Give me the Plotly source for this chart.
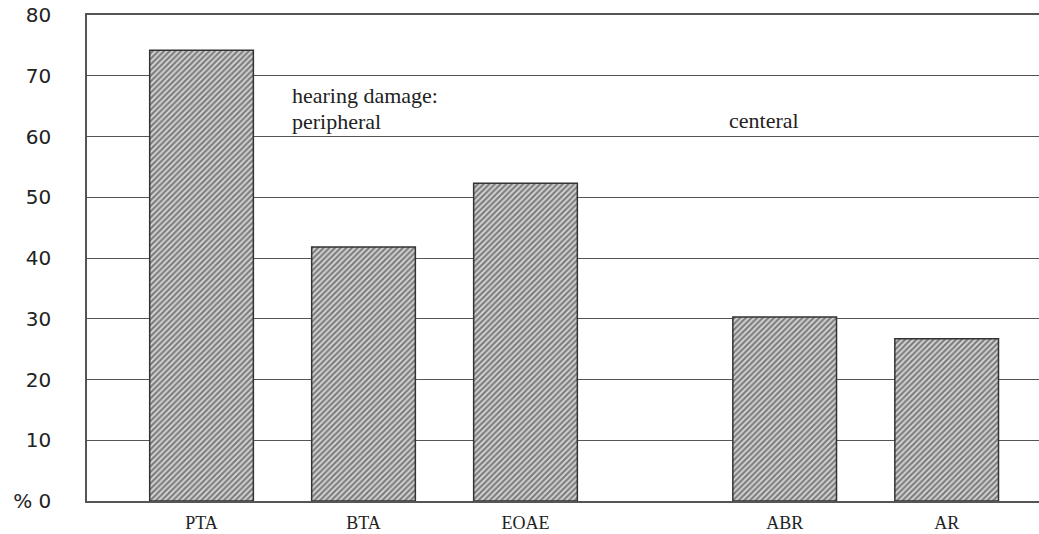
import plotly.graph_objects as go

tests = ['PTA', 'BTA', 'EOAE', 'ABR', 'AR']
percent = [74.2, 41.8, 52.3, 30.3, 26.7]
y_ticks = [0, 10, 20, 30, 40, 50, 60, 70, 80]
y_labels = ['% 0', '10', '20', '30', '40', '50', '60', '70', '80']

# slot positions on the x axis (gap between peripheral and central groups)
slots = [0, 1, 2, 3.6, 4.6]

fig = go.Figure(go.Bar(
    x=slots, y=percent, width=0.64,
    marker=dict(color='#cccccc',
                line=dict(color='#333', width=1.5),
                pattern=dict(shape='/', fgcolor='#222222', bgcolor='#dddddd',
                             size=4, solidity=0.6)),
    showlegend=False, hoverinfo='x+y'
))

serif = dict(family='Liberation Serif', size=22, color='#222')
fig.add_annotation(x=0.546, y=66.8, text='hearing damage:', showarrow=False,
                   xanchor='left', font=serif)
fig.add_annotation(x=0.546, y=62.4, text='peripheral', showarrow=False,
                   xanchor='left', font=serif)
fig.add_annotation(x=3.244, y=62.7, text='centeral', showarrow=False,
                   xanchor='left', font=serif)

fig.update_layout(
    width=1039, height=534,
    margin=dict(l=87, r=0, t=15, b=33, autoexpand=False),
    paper_bgcolor='white', plot_bgcolor='white',
    xaxis=dict(range=[-0.707, 5.17], tickvals=slots, ticktext=tests,
               showgrid=False, zeroline=False, automargin=False,
               showline=True, mirror=True, linecolor='#555', linewidth=1.5,
               ticks='', ticklabelstandoff=5,
               tickfont=dict(family='Liberation Serif', size=18, color='#222')),
    yaxis=dict(range=[0, 80], tickvals=y_ticks, ticktext=y_labels,
               showgrid=True, gridcolor='#555', gridwidth=1.3, automargin=False,
               zeroline=False, showline=True, linecolor='#555', linewidth=1.5,
               ticks='', ticklabelstandoff=30,
               tickfont=dict(family='DejaVu Sans', size=20, color='#222')),
)

fig.write_html("out.html", config={'displayModeBar': False},
               post_script="document.body.style.margin='0';")
